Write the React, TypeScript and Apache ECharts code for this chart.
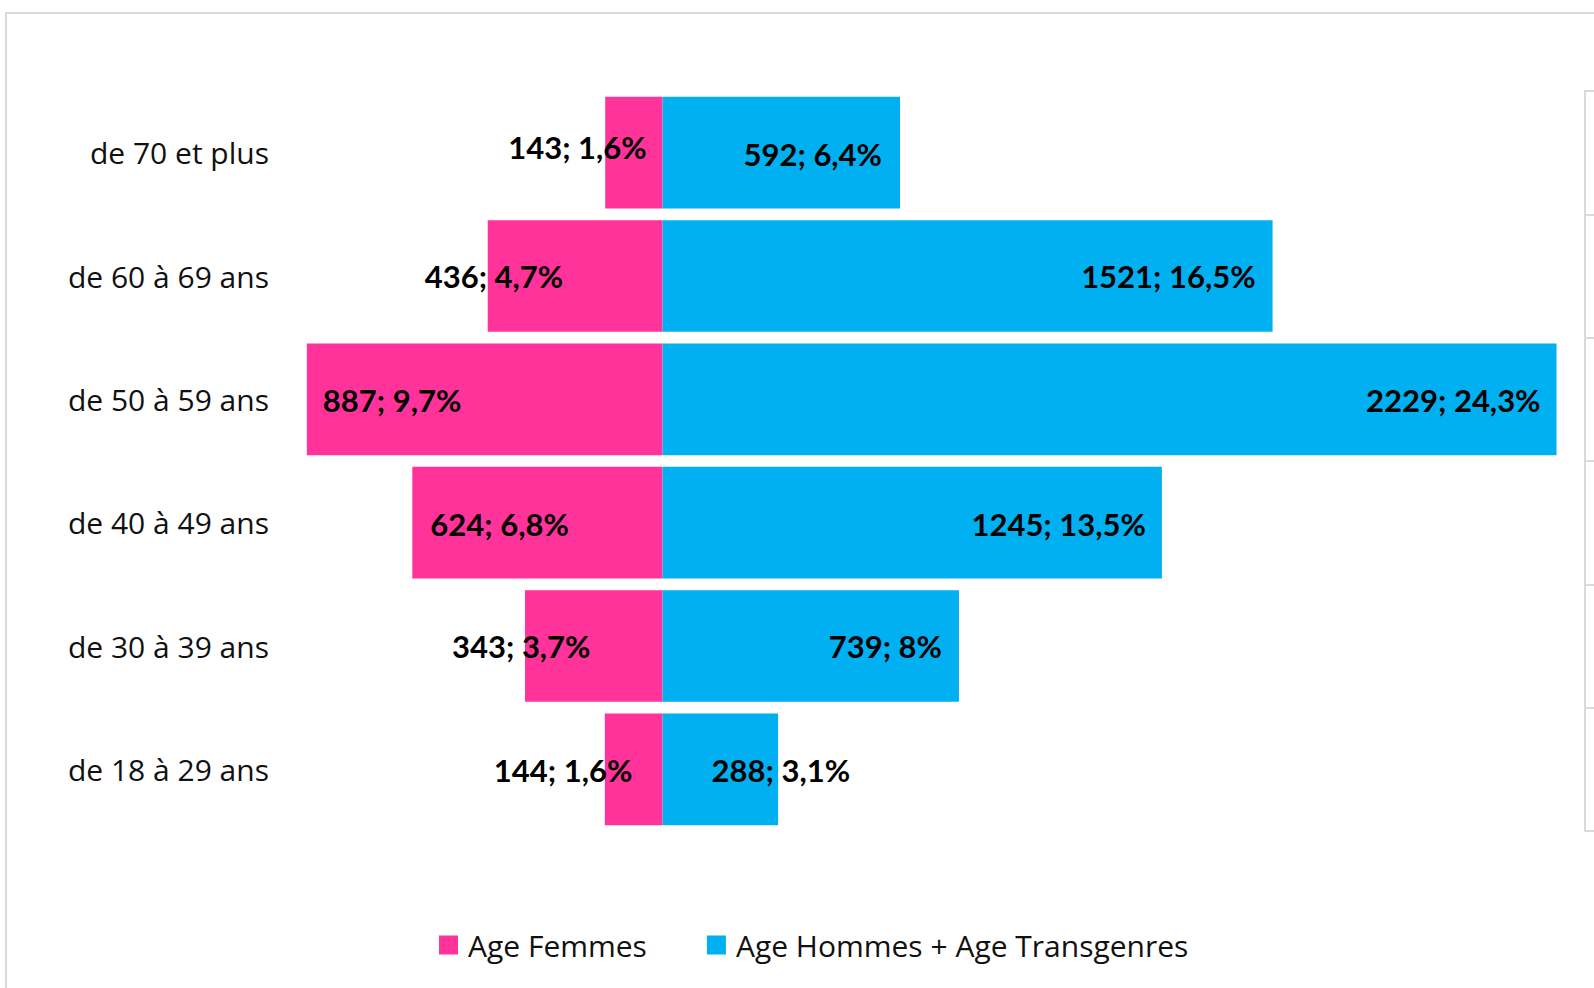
import React, { useEffect, useRef } from "react";
import * as echarts from "echarts";

const categories = [
  "de 70 et plus",
  "de 60 à 69 ans",
  "de 50 à 59 ans",
  "de 40 à 49 ans",
  "de 30 à 39 ans",
  "de 18 à 29 ans",
];
const femmes = [143, 436, 887, 624, 343, 144];
const femmesPct = [1.6, 4.7, 9.7, 6.8, 3.7, 1.6];
const hommes = [592, 1521, 2229, 1245, 739, 288];
const hommesPct = [6.4, 16.5, 24.3, 13.5, 8, 3.1];
const seriesNames = ["Age Femmes", "Age Hommes + Age Transgenres"];

// label nudges (styling only)
const femmesLabelOffset: [number, number][] = [
  [-97, -6],
  [-63, 0],
  [16, 1],
  [18, 1],
  [-73, 0],
  [-111, 1],
];
const hommesLabelOffset: [number, number][] = [
  [-18, 1],
  [-17, 0],
  [-16, 1],
  [-16, 1],
  [-17, 0],
  [72, 1],
];

const fmt = (v: number, p: number) => `${v}; ${String(p).replace(".", ",")}%`;

export default function App() {
  const ref = useRef<HTMLDivElement>(null);
  useEffect(() => {
    if (!ref.current) return;
    const chart = echarts.init(ref.current, null, { renderer: "svg" });
    const labelBase = {
      show: true,
      distance: 0,
      fontFamily: "Lato",
      fontWeight: "bold" as const,
      fontSize: 31,
      color: "#000",
    };
    chart.setOption({
      animation: false,
      backgroundColor: "#fff",
      graphic: [
        {
          type: "rect",
          shape: { x: 6, y: 13, width: 1700, height: 1100 },
          style: { fill: "none", stroke: "#d9d9d9", lineWidth: 2 },
          silent: true,
        },
      ],
      legend: {
        left: 439,
        top: 930,
        padding: 0,
        itemGap: 60,
        itemWidth: 19,
        itemHeight: 19,
        icon: "rect",
        data: seriesNames,
        textStyle: {
          fontFamily: "Open Sans",
          fontSize: 30,
          color: "#111",
          lineHeight: 30,
          padding: [0, 0, 0, 5],
        },
      },
      grid: { left: 61, right: 9, top: 91, bottom: 157 },
      xAxis: {
        type: "value",
        min: -1500,
        max: 2300,
        show: false,
        splitLine: { show: false },
      },
      yAxis: [
        {
          type: "category",
          data: categories,
          inverse: true,
          position: "right",
          axisLine: { show: true, onZero: false, lineStyle: { color: "#d9d9d9", width: 2 } },
          axisTick: { show: true, length: 12, lineStyle: { color: "#d9d9d9", width: 2 } },
          axisLabel: { show: false },
        },
        {
          type: "category",
          data: categories,
          inverse: true,
          position: "left",
          offset: -208,
          axisLine: { show: false, onZero: false },
          axisTick: { show: false },
          axisLabel: {
            margin: 0,
            fontFamily: "Open Sans",
            fontSize: 30,
            color: "#111",
            padding: [0, 0, 4, 0],
          },
        },
      ],
      series: [
        {
          name: seriesNames[0],
          type: "bar",
          stack: "total",
          barCategoryGap: "9.5%",
          itemStyle: { color: "#FF3399" },
          data: femmes.map((v, i) => ({
            value: -v,
            label: {
              ...labelBase,
              position: "insideLeft",
              offset: femmesLabelOffset[i],
              formatter: fmt(v, femmesPct[i]),
            },
          })),
        },
        {
          name: seriesNames[1],
          type: "bar",
          stack: "total",
          barCategoryGap: "9.5%",
          itemStyle: { color: "#00B0F0" },
          data: hommes.map((v, i) => ({
            value: v,
            label: {
              ...labelBase,
              position: "insideRight",
              offset: hommesLabelOffset[i],
              formatter: fmt(v, hommesPct[i]),
            },
          })),
        },
      ],
    });
    return () => chart.dispose();
  }, []);
  return (
    <div
      ref={ref}
      style={{ position: "absolute", left: 0, top: 0, width: 1594, height: 988 }}
    />
  );
}
